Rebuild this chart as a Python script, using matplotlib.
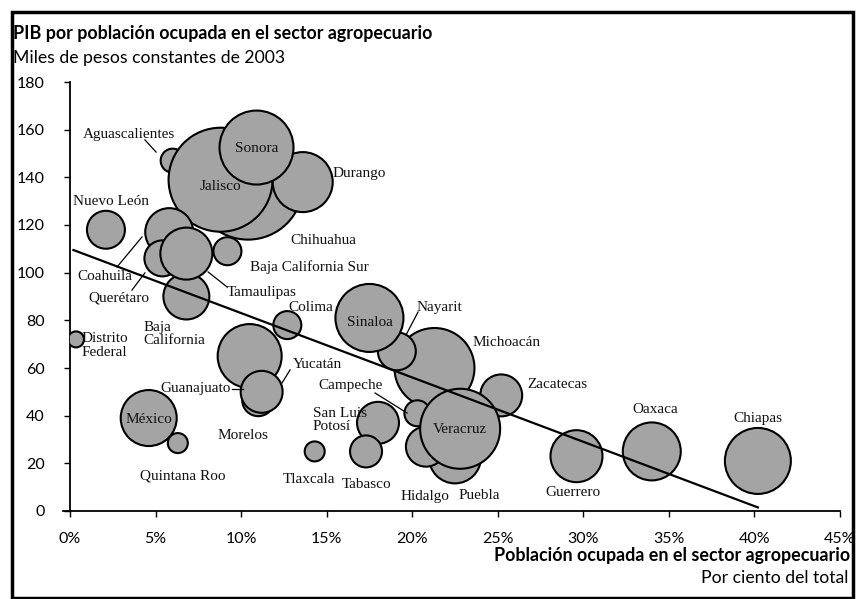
import numpy as np
import matplotlib
matplotlib.use("Agg")
from matplotlib import pyplot as plt
from matplotlib.patches import Rectangle

# estados (orden = orden de dibujo, los de atrás primero)
estados = ["Chihuahua", "Aguascalientes", "Jalisco", "Durango", "Sonora",
           "Nuevo León", "Coahuila", "Querétaro", "Baja California", "Tamaulipas",
           "Baja California Sur", "Colima", "Distrito Federal",
           "Michoacán", "Nayarit", "Sinaloa", "Zacatecas",
           "Puebla", "Hidalgo", "Campeche", "Veracruz",
           "Guanajuato", "Morelos", "Yucatán",
           "San Luis Potosí", "Tabasco", "Tlaxcala",
           "México", "Quintana Roo", "Guerrero", "Oaxaca", "Chiapas"]
# población ocupada en el sector agropecuario, % del total
pob_agro = [10.4, 6.0, 8.8, 13.6, 10.9,
            2.1, 5.8, 5.4, 6.8, 6.8,
            9.2, 12.7, 0.35,
            21.3, 19.1, 17.5, 25.2,
            22.5, 20.8, 20.3, 22.8,
            10.5, 11.0, 11.2,
            18.0, 17.3, 14.3,
            4.6, 6.3, 29.6, 34.0, 40.2]
# PIB por población ocupada, miles de pesos de 2003
pib_ocupado = [137, 147, 139, 138, 152.5,
               118, 117, 106, 90, 108,
               109, 78, 72,
               60, 67, 81, 48.5,
               22.5, 27, 41, 34.5,
               65, 46.5, 50,
               37, 25, 25,
               39, 28.5, 23, 25, 21]
# tamaño de la burbuja (miles de ocupados, aprox.)
ocupados = [760, 36, 676, 225, 342,
            90, 144, 81, 132, 169,
            49, 49, 16,
            400, 90, 289, 110,
            169, 100, 42, 400,
            256, 64, 110,
            110, 64, 25,
            196, 25, 169, 210, 272]

# tendencia
tend_x = [0.2, 40.2]
tend_y = [109.5, 1.5]

xticks = [0, 5, 10, 15, 20, 25, 30, 35, 40, 45]
yticks = [0, 20, 40, 60, 80, 100, 120, 140, 160, 180]

W, H = 857, 599
fig = plt.figure(figsize=(W / 100, H / 100), dpi=100)
ax = fig.add_axes([70 / W, 88 / H, 770 / W, 429 / H])
ax.set_xlim(0, 45)
ax.set_ylim(0, 180)

# px -> puntos: 0.72 pt/px
s = [(2 * np.sqrt(v * 4) * 0.72) ** 2 for v in ocupados]
ax.scatter(pob_agro, pib_ocupado, s=s, c="#a4a4a4", edgecolors="black",
           linewidths=1.5, zorder=3)
ax.plot(tend_x, tend_y, color="black", lw=1.6, zorder=4)

serif = "Liberation Serif"
lab = dict(family=serif, fontsize=11, color="#111111", zorder=6)

# etiquetas: (texto, x, y, ha)
etiquetas = [
    ("Aguascalientes", 0.76, 157.8, "left"),
    ("Durango", 15.37, 141.8, "left"),
    ("Nuevo León", 0.18, 129.7, "left"),
    ("Chihuahua", 12.86, 113.7, "left"),
    ("Baja California Sur", 10.52, 102.4, "left"),
    ("Coahuila", 0.41, 98.2, "left"),
    ("Querétaro", 1.05, 89.4, "left"),
    ("Tamaulipas", 9.18, 91.5, "left"),
    ("Colima", 12.74, 85.2, "left"),
    ("Baja\nCalifornia", 4.27, 74.3, "left"),
    ("Distrito\nFederal", 0.7, 69.4, "left"),
    ("Yucatán", 13.03, 61.3, "left"),
    ("Guanajuato", 5.26, 51.2, "left"),
    ("Campeche", 14.49, 52.5, "left"),
    ("San Luis\nPotosí", 14.2, 38.2, "left"),
    ("Morelos", 8.65, 31.5, "left"),
    ("Quintana Roo", 4.09, 14.7, "left"),
    ("Tlaxcala", 12.45, 13.4, "left"),
    ("Tabasco", 15.9, 11.3, "left"),
    ("Hidalgo", 19.29, 5.9, "left"),
    ("Puebla", 22.68, 6.7, "left"),
    ("Guerrero", 27.76, 7.6, "left"),
    ("Nayarit", 20.28, 85.2, "left"),
    ("Michoacán", 23.55, 70.5, "left"),
    ("Zacatecas", 26.71, 52.9, "left"),
    ("Oaxaca", 32.85, 42.4, "left"),
    ("Chiapas", 38.75, 39.0, "left"),
    ("Sonora", 10.93, 152.3, "center"),
    ("Jalisco", 8.77, 136.0, "center"),
    ("Sinaloa", 17.53, 78.9, "center"),
    ("Veracruz", 22.79, 34.0, "center"),
    ("México", 4.62, 38.2, "center"),
]
for t, x, y, ha in etiquetas:
    ax.text(x, y, t, ha=ha, va="center", linespacing=1.05, **lab)

# líneas guía
guias = [((4.38, 155.7), (5.03, 150.6)),
         ((2.75, 102.4), (4.21, 115.0)),
         ((3.62, 92.7), (4.38, 99.9)),
         ((9.18, 94.0), (8.07, 100.3)),
         ((12.86, 59.2), (12.39, 53.7)),
         ((9.47, 51.2), (10.11, 51.2)),
         ((17.83, 49.5), (19.7, 41.1)),
         ((20.34, 83.5), (19.64, 73.9))]
for a, b in guias:
    ax.plot([a[0], b[0]], [a[1], b[1]], color="black", lw=0.9, zorder=5)

sans = "Lato"
for side in ["top", "right"]:
    ax.spines[side].set_visible(False)
for side in ["left", "bottom"]:
    ax.spines[side].set_linewidth(1.3)
ax.spines["bottom"].set_bounds(-0.4, 45)
ax.set_xticks(xticks)
ax.set_xticklabels([f"{v}%" for v in xticks])
ax.set_yticks(yticks)
ax.tick_params(axis="both", direction="out", length=4, width=1, labelsize=11.5,
               colors="black")
ax.tick_params(axis="x", pad=11)
ax.tick_params(axis="y", pad=14)
for lbl in ax.get_xticklabels() + ax.get_yticklabels():
    lbl.set_family(sans)

fig.text(13 / W, 1 - 33 / H, "PIB por población ocupada en el sector agropecuario",
         family=sans, fontweight="bold", fontsize=12.9, va="center", ha="left")
fig.text(13 / W, 1 - 58 / H, "Miles de pesos constantes de 2003",
         family=sans, fontsize=12.7, va="center", ha="left")
fig.text(850 / W, 1 - 555 / H, "Población ocupada en el sector agropecuario",
         family=sans, fontweight="bold", fontsize=12.9, va="center", ha="right")
fig.text(848 / W, 1 - 578 / H, "Por ciento del total",
         family=sans, fontsize=12.7, va="center", ha="right")

# marco exterior
fig.patches.append(Rectangle((12 / W, 1 / H), 841 / W, 586 / H, transform=fig.transFigure,
                             fill=False, edgecolor="black", lw=2.5))

fig.savefig("out.png", dpi=100)
